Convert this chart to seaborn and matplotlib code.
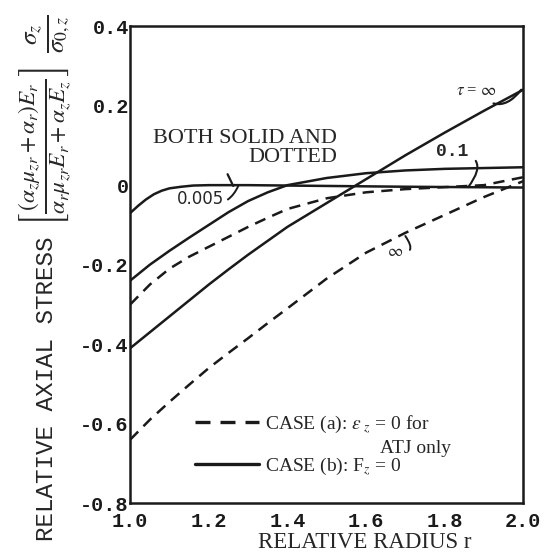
import numpy as np
import pandas as pd
import matplotlib
matplotlib.use('Agg')
import matplotlib.pyplot as plt
import seaborn as sns
from matplotlib.lines import Line2D

# curve: tau = 0.005 (solid and dotted coincide)
r_005 = [1.0, 1.02, 1.04, 1.06, 1.08, 1.1, 1.13, 1.16, 1.2, 1.3, 1.5, 1.7, 2.0]
s_005 = [-0.07, -0.052, -0.036, -0.023, -0.014, -0.008, -0.004, -0.001, 0.0, 0.0, -0.002, -0.004, -0.006]

r_grid = [1.0, 1.05, 1.1, 1.15, 1.2, 1.25, 1.3, 1.35, 1.4, 1.5, 1.6, 1.7, 1.8, 1.9, 2.0]
solid_01 = [-0.24, -0.2, -0.165, -0.132, -0.1, -0.068, -0.04, -0.018, 0.0, 0.018, 0.03, 0.037, 0.041, 0.043, 0.045]
dashed_01 = [-0.30, -0.25, -0.21, -0.18, -0.155, -0.13, -0.105, -0.082, -0.06, -0.033, -0.018, -0.01, -0.005, 0.0, 0.02]
solid_inf = [-0.41, -0.37, -0.33, -0.29, -0.25, -0.212, -0.175, -0.14, -0.105, -0.045, 0.015, 0.075, 0.132, 0.187, 0.24]
dashed_inf = [-0.64, -0.59, -0.545, -0.502, -0.46, -0.422, -0.385, -0.347, -0.31, -0.235, -0.17, -0.12, -0.075, -0.03, 0.01]

x_ticks = [1.0, 1.2, 1.4, 1.6, 1.8, 2.0]
x_labels = ['1.0', '1.2', '1.4', '1.6', '1.8', '2.0']
y_ticks = [0.4, 0.2, 0.0, -0.2, -0.4, -0.6, -0.8]
y_labels = ['0.4', '0.2', '0', '-0.2', '-0.4', '-0.6', '-0.8']

frames = [
    pd.DataFrame({'r': r_005, 'stress': s_005, 'curve': '0.005', 'case': 'b'}),
    pd.DataFrame({'r': r_grid, 'stress': solid_01, 'curve': '0.1b', 'case': 'b'}),
    pd.DataFrame({'r': r_grid, 'stress': dashed_01, 'curve': '0.1a', 'case': 'a'}),
    pd.DataFrame({'r': r_grid, 'stress': solid_inf, 'curve': 'infb', 'case': 'b'}),
    pd.DataFrame({'r': r_grid, 'stress': dashed_inf, 'curve': 'infa', 'case': 'a'}),
]
df = pd.concat(frames, ignore_index=True)

sns.set_theme(style='white')
plt.rcParams['font.family'] = ['Liberation Serif', 'DejaVu Serif']
plt.rcParams['mathtext.fontset'] = 'stix'

fig = plt.figure(figsize=(5.45, 5.56), dpi=100)
ax = fig.add_axes([0.239, 0.095, 0.721, 0.858])

sns.lineplot(data=df, x='r', y='stress', units='curve', style='case', estimator=None,
             dashes={'a': (4.5, 3), 'b': ''}, style_order=['a', 'b'], color='k',
             lw=1.8, sort=False, legend=False, ax=ax)

ax.set_xlim(1.0, 2.0)
ax.set_ylim(-0.8, 0.4)
ax.set_xlabel('')
ax.set_ylabel('')
for s in ax.spines.values():
    s.set_color('k')
    s.set_linewidth(1.8)

tick_font = dict(family='Liberation Mono', weight='bold', size=14.5)
ax.set_xticks(x_ticks)
ax.set_xticklabels(x_labels, fontdict=tick_font)
ax.set_yticks(y_ticks)
ax.set_yticklabels(y_labels, fontdict=tick_font)
ax.tick_params(axis='both', direction='in', width=1.8, color='k', labelcolor='k')
ax.tick_params(axis='x', pad=6)
ax.tick_params(axis='y', pad=1)

# tick lengths differ from tick to tick in the original
x_len = [0, 12, 22, 10, 20, 0]
y_len = [0, 15, 22, 15, 22, 8, 0]
for t, L in zip(ax.xaxis.get_major_ticks(), x_len):
    t.tick1line.set_markersize(L)
for t, L in zip(ax.yaxis.get_major_ticks(), y_len):
    t.tick1line.set_markersize(L)

# axis titles
fig.text(0.67, 0.024, 'RELATIVE RADIUS r', ha='center', va='center', fontsize=16.5)
fig.text(0.086, 0.30, 'RELATIVE AXIAL STRESS', rotation=90, ha='center', va='center',
         family='Liberation Mono', fontsize=17.5)
fig.text(0.084, 0.737,
         r'$\left[\frac{(\alpha_z\mu_{zr}+\alpha_r)E_r}{\alpha_r\mu_{zr}E_r+\alpha_z E_z}\right]$',
         rotation=90, ha='center', va='center', fontsize=24)
fig.text(0.088, 0.94, r'$\frac{\sigma_z}{\sigma_{0,z}}$',
         rotation=90, ha='center', va='center', fontsize=26)

# curve annotations
ax.annotate(r'$\tau$ = $\infty$', xy=(1.995, 0.24), xytext=(1.88, 0.236),
            ha='center', va='center', fontsize=12,
            arrowprops=dict(arrowstyle='-', lw=1.6, color='k', connectionstyle='arc3,rad=0.6',
                            shrinkA=2, shrinkB=0))
ax.annotate('0.1', xy=(1.86, -0.005), xytext=(1.82, 0.085), ha='center', va='center',
            family='Liberation Mono', weight='bold', fontsize=13,
            arrowprops=dict(arrowstyle='-', lw=1.5, color='k', connectionstyle='arc3,rad=-0.9',
                            shrinkA=4, shrinkB=0))
ax.annotate('BOTH SOLID AND\nDOTTED', xy=(1.262, -0.002), xytext=(1.527, 0.093),
            ha='right', va='center', multialignment='right', fontsize=16, linespacing=1.0,
            arrowprops=dict(arrowstyle='-', lw=1.6, color='k', relpos=(0.35, 0.35),
                            shrinkA=3, shrinkB=0))
ax.annotate('0.005', xy=(1.275, -0.002), xytext=(1.18, -0.036), ha='center', va='center',
            family='DejaVu Sans', fontsize=12,
            arrowprops=dict(arrowstyle='-', lw=1.4, color='k', connectionstyle='arc3,rad=0.5',
                            shrinkA=0, shrinkB=0))
ax.annotate(r'$\infty$', xy=(1.70, -0.128), xytext=(1.674, -0.168), ha='center', va='center',
            fontsize=12,
            arrowprops=dict(arrowstyle='-', lw=1.4, color='k', connectionstyle='arc3,rad=1.2',
                            shrinkA=3, shrinkB=0))

# legend
handles = [Line2D([], [], color='k', lw=2.4, dashes=(4.5, 3)),
           Line2D([], [], color='k', lw=2.4)]
labels = [r'CASE (a): $\epsilon_{\ z}$ = 0 for', r'CASE (b): F$_{z}$ = 0']
leg = ax.legend(handles, labels, loc='lower left', bbox_to_anchor=(0.165, 0.055),
                frameon=False, fontsize=14, handlelength=3.3, handletextpad=0.3,
                labelspacing=1.05, borderpad=0, borderaxespad=0)
ax.text(0.635, 0.115, 'ATJ only', transform=ax.transAxes, ha='left', va='center', fontsize=14)

fig.savefig('out.png', dpi=100)
